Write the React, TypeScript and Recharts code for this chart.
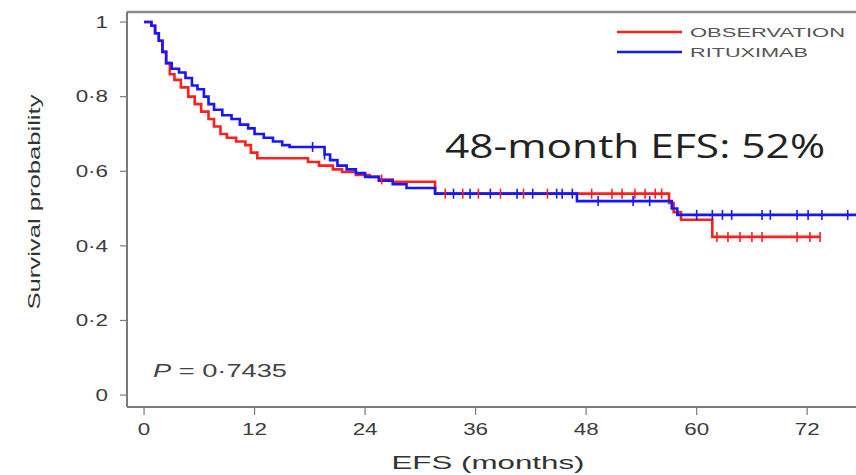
import React from "react";
import {
  ComposedChart,
  Line,
  Scatter,
  XAxis,
  YAxis,
  ReferenceLine,
} from "recharts";

// ---- Data ----
const obsMonths = [0, 0.8, 1.2, 1.6, 2.0, 2.4, 2.8, 3.3, 4.0, 4.8, 5.5, 6.2, 7.0, 7.6, 8.3, 9.0, 10.0, 11.0, 11.6, 12.3, 17.8, 19.0, 20.5, 21.5, 23.0, 24.5, 25.5, 27.0, 31.6, 57.0, 57.5, 58.3, 61.7, 73.4];
const obsSurv = [1.0, 0.99, 0.97, 0.95, 0.92, 0.89, 0.86, 0.845, 0.825, 0.8, 0.78, 0.76, 0.74, 0.72, 0.7, 0.69, 0.68, 0.67, 0.65, 0.635, 0.625, 0.615, 0.605, 0.598, 0.59, 0.585, 0.578, 0.572, 0.54, 0.515, 0.49, 0.47, 0.424, 0.424];

const ritMonths = [0, 0.8, 1.2, 1.6, 2.0, 2.4, 3.0, 3.8, 4.5, 5.2, 5.8, 6.5, 7.0, 7.6, 8.5, 9.5, 10.4, 11.3, 12.0, 13.0, 14.0, 15.0, 15.8, 19.6, 20.2, 21.0, 22.0, 23.0, 24.0, 25.5, 27.0, 28.5, 31.6, 47.0, 57.3, 57.9, 77.3];
const ritSurv = [1.0, 0.99, 0.97, 0.95, 0.92, 0.89, 0.875, 0.865, 0.85, 0.83, 0.82, 0.8, 0.78, 0.765, 0.75, 0.74, 0.725, 0.715, 0.7, 0.69, 0.68, 0.67, 0.665, 0.645, 0.63, 0.615, 0.605, 0.595, 0.585, 0.575, 0.565, 0.555, 0.54, 0.52, 0.5, 0.483, 0.483];

const obsCensor = [25.8, 32.7, 34.6, 36.3, 38.7, 41.2, 43.8, 48.6, 50.8, 51.9, 53.3, 54.4, 55.5, 56.2, 62.2, 63.4, 64.7, 66.0, 67.1, 70.9, 72.3, 73.4];
const ritCensor = [18.3, 19.6, 33.6, 35.4, 37.6, 40.5, 42.2, 44.8, 45.4, 46.5, 49.3, 53.1, 54.9, 60.0, 61.7, 62.8, 63.8, 67.1, 68.0, 70.9, 72.1, 73.6, 76.4];

const xTicks = [0, 12, 24, 36, 48, 60, 72];
const yTicks = [0, 0.2, 0.4, 0.6, 0.8, 1];
const yTickLabels = ["0", "0·2", "0·4", "0·6", "0·8", "1"];

const seriesNames = ["OBSERVATION", "RITUXIMAB"];
const annotation = "48-month EFS: 52%";
const pValue = "0·7435";

// ---- helpers ----
const stepLookup = (months: number[], surv: number[], t: number) => {
  let v = surv[0];
  for (let i = 0; i < months.length; i++) {
    if (months[i] <= t) v = surv[i];
  }
  return v;
};

const obsData = obsMonths.map((m, i) => ({ x: m, y: obsSurv[i] }));
const ritData = ritMonths.map((m, i) => ({ x: m, y: ritSurv[i] }));
const obsCensorData = obsCensor.map((m) => ({ x: m, y: stepLookup(obsMonths, obsSurv, m) }));
const ritCensorData = ritCensor.map((m) => ({ x: m, y: stepLookup(ritMonths, ritSurv, m) }));

const RED = "#ff1f1f";
const BLUE = "#1717ff";
const AXIS = "#7a7a7a";
const TXT = "#3c3c3c";

const X_MIN = -1.85;
const X_MAX = 77.3;
const Y_MIN = -0.032;
const Y_MAX = 1.027;

const makeCensor = (color: string) => (props: any) => {
  const { cx, cy } = props;
  if (cx == null || cy == null) return <g />;
  return <line x1={cx} x2={cx} y1={cy - 5} y2={cy + 5} stroke={color} strokeWidth={1.6} />;
};

const YTick = (props: any) => {
  const { x, y, payload } = props;
  const idx = yTicks.indexOf(payload.value);
  const label = idx >= 0 ? yTickLabels[idx] : String(payload.value);
  return (
    <g transform={`translate(${x},${y}) scale(1.4,1)`}>
      <text x={0} y={0} dy="0.36em" textAnchor="end" fontSize={16} fill={TXT} fontFamily="Liberation Sans, Arial, sans-serif">
        {label}
      </text>
    </g>
  );
};

const XTick = (props: any) => {
  const { x, y, payload } = props;
  return (
    <g transform={`translate(${x},${y}) scale(1.4,1)`}>
      <text x={0} y={0} dy="0.75em" textAnchor="middle" fontSize={16} fill={TXT} fontFamily="Liberation Sans, Arial, sans-serif">
        {payload.value}
      </text>
    </g>
  );
};

export default function App() {
  return (
    <div style={{ position: "absolute", left: 0, top: 0, width: 856, height: 475, background: "#fff" }}>
      <ComposedChart width={856} height={475} margin={{ top: 12, right: 0, bottom: 0, left: 0 }}>
        <XAxis
          type="number"
          dataKey="x"
          domain={[X_MIN, X_MAX]}
          allowDataOverflow
          ticks={xTicks}
          height={68}
          tickSize={8}
          tickMargin={8}
          axisLine={{ stroke: AXIS, strokeWidth: 2 }}
          tickLine={{ stroke: AXIS, strokeWidth: 1.2 }}
          tick={<XTick />}
        />
        <YAxis
          type="number"
          domain={[Y_MIN, Y_MAX]}
          allowDataOverflow
          ticks={yTicks}
          width={127}
          tickSize={7}
          tickMargin={12}
          axisLine={{ stroke: AXIS, strokeWidth: 2 }}
          tickLine={{ stroke: AXIS, strokeWidth: 1.2 }}
          tick={<YTick />}
        />
        <ReferenceLine y={Y_MAX} stroke="#8a8a8a" strokeWidth={2.5} />
        <Line
          data={obsData}
          dataKey="y"
          type="stepAfter"
          stroke={RED}
          strokeWidth={2.6}
          dot={false}
          activeDot={false}
          isAnimationActive={false}
        />
        <Line
          data={ritData}
          dataKey="y"
          type="stepAfter"
          stroke={BLUE}
          strokeWidth={2.6}
          dot={false}
          activeDot={false}
          isAnimationActive={false}
        />
        <Scatter data={obsCensorData} dataKey="y" shape={makeCensor(RED)} isAnimationActive={false} />
        <Scatter data={ritCensorData} dataKey="y" shape={makeCensor(BLUE)} isAnimationActive={false} />

        {/* Legend */}
        <g>
          <line x1={617} x2={682} y1={32} y2={32} stroke={RED} strokeWidth={2.5} />
          <line x1={617} x2={682} y1={52} y2={52} stroke={BLUE} strokeWidth={2.5} />
          <text x={690} y={32} dy="0.36em" fontSize={13} fill="#555" fontFamily="Liberation Sans, Arial, sans-serif" textLength={155} lengthAdjust="spacingAndGlyphs">
            {seriesNames[0]}
          </text>
          <text x={690} y={52} dy="0.36em" fontSize={13} fill="#555" fontFamily="Liberation Sans, Arial, sans-serif" textLength={118} lengthAdjust="spacingAndGlyphs">
            {seriesNames[1]}
          </text>
        </g>

        {/* Annotations */}
        <text x={445} y={158} fontSize={32} fill="#222" fontFamily="Open Sans, Liberation Sans, sans-serif" textLength={380} lengthAdjust="spacingAndGlyphs">
          {annotation}
        </text>
        <text x={153} y={377} fontSize={18} fill="#444" fontFamily="Liberation Sans, Arial, sans-serif" textLength={134} lengthAdjust="spacingAndGlyphs">
          <tspan fontStyle="italic">P</tspan>
          {" = " + pValue}
        </text>

        {/* Axis titles */}
        <text x={488} y={469} textAnchor="middle" fontSize={19} fill="#333" fontFamily="Liberation Sans, Arial, sans-serif" textLength={193} lengthAdjust="spacingAndGlyphs">
          EFS (months)
        </text>
        <text
          x={0}
          y={0}
          transform="translate(40,202) rotate(-90)"
          textAnchor="middle"
          fontSize={17}
          fill="#333"
          fontFamily="Liberation Sans, Arial, sans-serif"
          textLength={215}
          lengthAdjust="spacingAndGlyphs"
        >
          Survival probability
        </text>
      </ComposedChart>
    </div>
  );
}
